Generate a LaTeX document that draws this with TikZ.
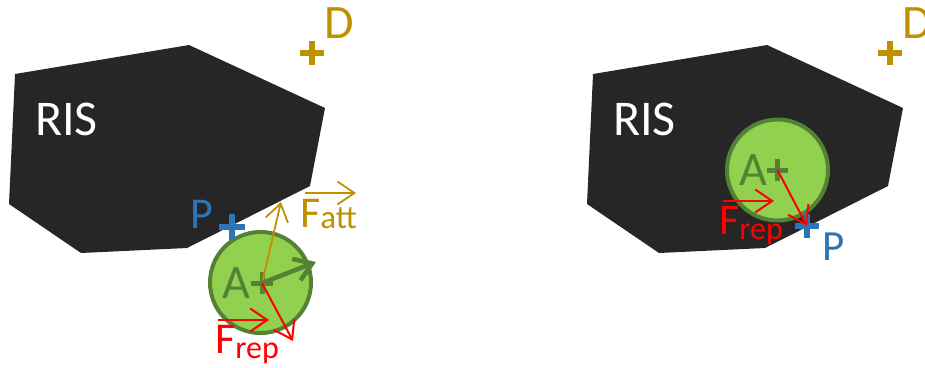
\documentclass[tikz,border=0pt]{standalone}
\usepackage{fontspec}
\setmainfont{Carlito}
\usetikzlibrary{arrows.meta}
\definecolor{ris}{HTML}{262626}
\definecolor{gold}{HTML}{BF9000}
\definecolor{pblue}{HTML}{2E75B6}
\definecolor{lgreen}{HTML}{92D050}
\definecolor{dgreen}{HTML}{548235}
\definecolor{fred}{HTML}{FF0000}
\tikzset{
  risbody/.style={fill=ris, draw=none},
  ball/.style={circle, fill=lgreen, draw=dgreen, line width=4pt, minimum size=101pt, inner sep=0},
  txt/.style={anchor=base west, inner sep=0},
  pmark/.style={inner sep=0, minimum size=#1pt},
  crossline/.style={line width=5.5pt},
  barb/.style={-{Straight Barb[length=17pt,width=23pt]}},
  thinvec/.style={barb, line width=1.8pt},
}
\newcommand{\fsz}[1]{\fontsize{#1}{#1}\selectfont}
\begin{document}
\begin{tikzpicture}[x=1pt,y=-1pt]
\useasboundingbox (0,0) rectangle (925,367);

% ---------- left panel ----------
\fill[risbody] (15,74) -- (189,45) -- (325,108) -- (310,186) -- (187,248) -- (81,253) -- (9,204) -- cycle;
\node[txt, white, font=\fsz{50}] (ris1) at (35,135) {RIS};

\node[pmark=24, gold] (pD1) at (312,53) {};
\draw[crossline, gold] (pD1.west) -- (pD1.east) (pD1.north) -- (pD1.south);
\node[txt, gold, font=\fsz{48}] (lD1) at (324,38) {D};

\node[ball] (ball1) at (260.5,282.5) {};
\node[txt, dgreen, font=\fsz{48}] (lA1) at (222,298) {A};
\node[pmark=21] (pA1) at (262,283) {};
\draw[crossline, dgreen, line width=5pt] (pA1.west) -- (pA1.east) (pA1.north) -- (pA1.south);

\node[pmark=25] (pP1) at (232,227) {};
\draw[crossline, pblue, line width=6pt] (pP1.west) -- (pP1.east) (pP1.north) -- (pP1.south);
\node[txt, pblue, font=\fsz{44}] (lP1) at (190,228) {P};

\coordinate (tAtt1) at (281,202);
\coordinate (tRes1) at (316,262);
\coordinate (tRep1) at (293,341);
\draw[thinvec, gold] (pA1.center) -- (tAtt1);
\draw[barb, dgreen, line width=4.5pt] (pA1.center) -- (tRes1);
\draw[thinvec, fred, line width=2pt] (pA1.center) -- (tRep1);

\node[txt, gold] (lFatt) at (300,227) {\fsz{44}F\fsz{33}\raisebox{-1pt}{att}};
\coordinate (va1) at (305,193);
\coordinate (va2) at (356,193);
\draw[thinvec, gold] (va1) -- (va2);

\node[txt, fred] (lFrep1) at (215,353) {\fsz{44}F\fsz{32}\raisebox{-5pt}{rep}};
\coordinate (vr1) at (218,320);
\coordinate (vr2) at (269,320);
\draw[thinvec, fred, line width=2pt] (vr1) -- (vr2);

% ---------- right panel ----------
\fill[risbody] (593,74) -- (767,45) -- (903,108) -- (888,186) -- (765,248) -- (659,253) -- (587,204) -- cycle;
\node[txt, white, font=\fsz{50}] (ris2) at (613,135) {RIS};

\node[pmark=24] (pD2) at (890,53) {};
\draw[crossline, gold] (pD2.west) -- (pD2.east) (pD2.north) -- (pD2.south);
\node[txt, gold, font=\fsz{48}] (lD2) at (902,38) {D};

\node[ball] (ball2) at (777.5,170) {};
\node[txt, dgreen, font=\fsz{48}] (lA2) at (739,185.5) {A};
\node[pmark=21] (pA2) at (777.5,170) {};
\draw[crossline, dgreen, line width=5pt] (pA2.west) -- (pA2.east) (pA2.north) -- (pA2.south);

\node[pmark=24] (pP2) at (807,226) {};
\draw[crossline, pblue, line width=6pt] (pP2.west) -- (pP2.east) (pP2.north) -- (pP2.south);
\node[txt, pblue, font=\fsz{43}] (lP2) at (822,260) {P};

\draw[thinvec, fred, line width=2pt] (pA2.center) -- (pP2.center);

\node[txt, fred] (lFrep2) at (719,234) {\fsz{44}F\fsz{32}\raisebox{-5pt}{rep}};
\coordinate (vr3) at (723,201);
\coordinate (vr4) at (774,201);
\draw[thinvec, fred, line width=2pt] (vr3) -- (vr4);
\end{tikzpicture}
\end{document}
